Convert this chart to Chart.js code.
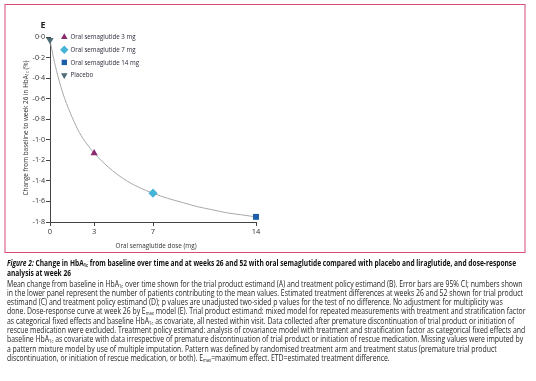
<!DOCTYPE html>
<html><head><meta charset="utf-8">
<script src="https://cdn.jsdelivr.net/npm/chart.js@4.4.1/dist/chart.umd.min.js"></script>
<style>
html,body{margin:0;padding:0;background:#fff;}
body{width:536px;height:381px;position:relative;overflow:hidden;font-family:'Open Sans',sans-serif;color:#222;}
#frame{position:absolute;box-sizing:border-box;left:4px;top:4px;width:522px;height:249px;border-top:1.5px solid #d94d75;border-bottom:1.5px solid #d94d75;border-left:2px solid #eba3b9;border-right:2px solid #eba3b9;}
#wrap{position:absolute;left:0;top:0;width:536px;height:255px;}
#panel{position:absolute;left:40.5px;top:18px;font-weight:bold;font-size:9px;color:#222;}
#ytitle{position:absolute;left:24px;top:127.5px;white-space:nowrap;font-size:8px;line-height:9px;color:#333;}
#xtitle{position:absolute;left:156px;top:244px;white-space:nowrap;font-size:8px;line-height:9px;color:#333;}
#head{position:absolute;left:7px;top:258px;font-size:8.2px;line-height:10.3px;font-weight:bold;color:#111;white-space:nowrap;transform-origin:0 0;}
#body{position:absolute;left:7px;top:278.5px;font-size:8.1px;line-height:9.3px;color:#1c1c1c;white-space:nowrap;transform-origin:0 0;}
.ln{display:inline-block;}
sub{font-size:4.8px;vertical-align:-1px;line-height:0;}
</style></head>
<body>
<div id="frame"></div>
<div id="wrap"><canvas id="c" width="536" height="255"></canvas></div>
<div id="panel">E</div>
<div id="ytitle">Change from baseline to week 26 in HbA<sub>1c</sub> (%)</div>
<div id="xtitle">Oral semaglutide dose (mg)</div>
<div id="head"><span class="ln"><i>Figure 2:</i> Change in HbA<sub>1c</sub> from baseline over time and at weeks 26 and 52 with oral semaglutide compared with placebo and liraglutide, and dose-response</span><br><span class="ln">analysis at week 26</span></div>
<div id="body"><span class="ln">Mean change from baseline in HbA<sub>1c</sub> over time shown for the trial product estimand (A) and treatment policy estimand (B). Error bars are 95% CI; numbers shown</span><br><span class="ln">in the lower panel represent the number of patients contributing to the mean values. Estimated treatment differences at weeks 26 and 52 shown for trial product</span><br><span class="ln">estimand (C) and treatment policy estimand (D); p values are unadjusted two-sided p values for the test of no difference. No adjustment for multiplicity was</span><br><span class="ln">done. Dose-response curve at week 26 by E<sub>max</sub> model (E). Trial product estimand: mixed model for repeated measurements with treatment and stratification factor</span><br><span class="ln">as categorical fixed effects and baseline HbA<sub>1c</sub> as covariate, all nested within visit. Data collected after premature discontinuation of trial product or initiation of</span><br><span class="ln">rescue medication were excluded. Treatment policy estimand: analysis of covariance model with treatment and stratification factor as categorical fixed effects and</span><br><span class="ln">baseline HbA<sub>1c</sub> as covariate with data irrespective of premature discontinuation of trial product or initiation of rescue medication. Missing values were imputed by</span><br><span class="ln">a pattern mixture model by use of multiple imputation. Pattern was defined by randomised treatment arm and treatment status (premature trial product</span><br><span class="ln">discontinuation, or initiation of rescue medication, or both). E<sub>max</sub>=maximum effect. ETD=estimated treatment difference.</span></div>
<script>
// ---- data ----
const curveDose   = [0, 0.25, 0.5, 0.75, 1, 1.5, 2, 2.5, 3, 4, 5, 6, 7, 8, 9, 10, 11, 12, 13, 14];
const curveChange = [-0.03, -0.21, -0.36, -0.49, -0.60, -0.78, -0.93, -1.04, -1.13, -1.27, -1.38, -1.46, -1.52, -1.57, -1.61, -1.65, -1.68, -1.71, -1.73, -1.75];
const groupNames  = ['Oral semaglutide 3 mg', 'Oral semaglutide 7 mg', 'Oral semaglutide 14 mg', 'Placebo'];
const groupDose   = [3, 7, 14, 0];
const groupChange = [-1.13, -1.52, -1.75, -0.03];
const xTickValues = [0, 3, 7, 14];
const yTickValues = [0, -0.2, -0.4, -0.6, -0.8, -1.0, -1.2, -1.4, -1.6, -1.8];

// ---- styles ----
const groupColors = ['#8a2a6f', '#46b4d8', '#1c5ea8', '#4e6c75'];
const groupStyles = ['triangle', 'rectRot', 'rect', 'triangle'];
const groupRot    = [0, 0, 0, 180];
const groupRadius = [4.2, 4.6, 4.2, 4.2];
const FONT = "'Open Sans',sans-serif";

// fit text widths (narrow typeface emulation)
function fitBlock(id, targets) {
  const el = document.getElementById(id);
  const lines = el.querySelectorAll('.ln');
  let sw = 0, st = 0;
  lines.forEach((l, i) => { if (targets[i]) { sw += l.getBoundingClientRect().width; st += targets[i]; } });
  el.style.transform = 'scaleX(' + (st / sw) + ')';
}
fitBlock('head', [510, 63]);
fitBlock('body', [513, 510, 498, 517, 507, 516, 514, 502]);
(function () {
  const yt = document.getElementById('ytitle');
  const ky = 135 / yt.getBoundingClientRect().width;
  yt.style.transform = 'translate(-50%,-50%) rotate(-90deg) scaleX(' + ky + ')';
  const xt = document.getElementById('xtitle');
  const kx = 81 / xt.getBoundingClientRect().width;
  xt.style.transform = 'translate(-50%,-50%) scaleX(' + kx + ')';
})();

const fmt = v => {
  const s = Math.abs(v).toFixed(1).replace('.', '\u00B7');
  return (v < -1e-9 ? '-' : '') + s;
};

const datasets = [{
  type: 'line',
  data: curveDose.map((d, i) => ({x: d, y: curveChange[i]})),
  borderColor: '#a8a8a8', borderWidth: 1, pointRadius: 0,
  cubicInterpolationMode: 'monotone', fill: false, clip: false, order: 5
}];
groupNames.forEach((n, i) => datasets.push({
  type: 'scatter', label: n,
  data: [{x: groupDose[i], y: groupChange[i]}],
  backgroundColor: groupColors[i], borderColor: groupColors[i], borderWidth: 0,
  pointStyle: groupStyles[i], pointRotation: groupRot[i], pointRadius: groupRadius[i],
  clip: false, order: 1
}));

const legendPlugin = {
  id: 'customLegend',
  afterDraw(chart) {
    const ctx = chart.ctx;
    ctx.save();
    ctx.font = '8px ' + FONT;
    ctx.textBaseline = 'middle';
    ctx.textAlign = 'left';
    const k = 65 / ctx.measureText(groupNames[0]).width;
    groupNames.forEach((n, i) => {
      const y = 37 + i * 12.7;
      ctx.fillStyle = groupColors[i];
      Chart.helpers.drawPoint(ctx, {pointStyle: groupStyles[i], radius: groupRadius[i] - 0.4, rotation: groupRot[i], borderWidth: 0}, 64.3, y);
      ctx.save();
      ctx.translate(70.5, y);
      ctx.scale(k, 1);
      ctx.fillStyle = '#2a2a3a';
      ctx.fillText(n, 0, 0);
      ctx.restore();
    });
    ctx.restore();
  }
};

new Chart(document.getElementById('c'), {
  data: {datasets},
  options: {
    responsive: false, animation: false,
    layout: {padding: {left: 10, top: 37, right: 280, bottom: 0}},
    plugins: {legend: {display: false}, tooltip: {enabled: false}},
    scales: {
      x: {
        type: 'linear', min: 0, max: 14,
        afterBuildTicks: s => { s.ticks = xTickValues.map(v => ({value: v})); },
        afterFit: s => { s.height = 33; },
        grid: {drawOnChartArea: false, tickLength: 4, color: '#444', tickWidth: 1},
        border: {color: '#444', width: 1},
        ticks: {font: {size: 7.5, family: FONT}, color: '#333', padding: 1, maxRotation: 0, callback: v => String(v)}
      },
      y: {
        type: 'linear', min: -1.8, max: 0,
        afterBuildTicks: s => { s.ticks = yTickValues.map(v => ({value: v})); },
        afterFit: s => { s.width = 40; },
        grid: {drawOnChartArea: false, tickLength: 4, color: '#444', tickWidth: 1},
        border: {color: '#444', width: 1},
        ticks: {font: {size: 7.2, family: FONT}, color: '#333', padding: 1, callback: v => fmt(v)}
      }
    }
  },
  plugins: [legendPlugin]
});
</script>
</body></html>
